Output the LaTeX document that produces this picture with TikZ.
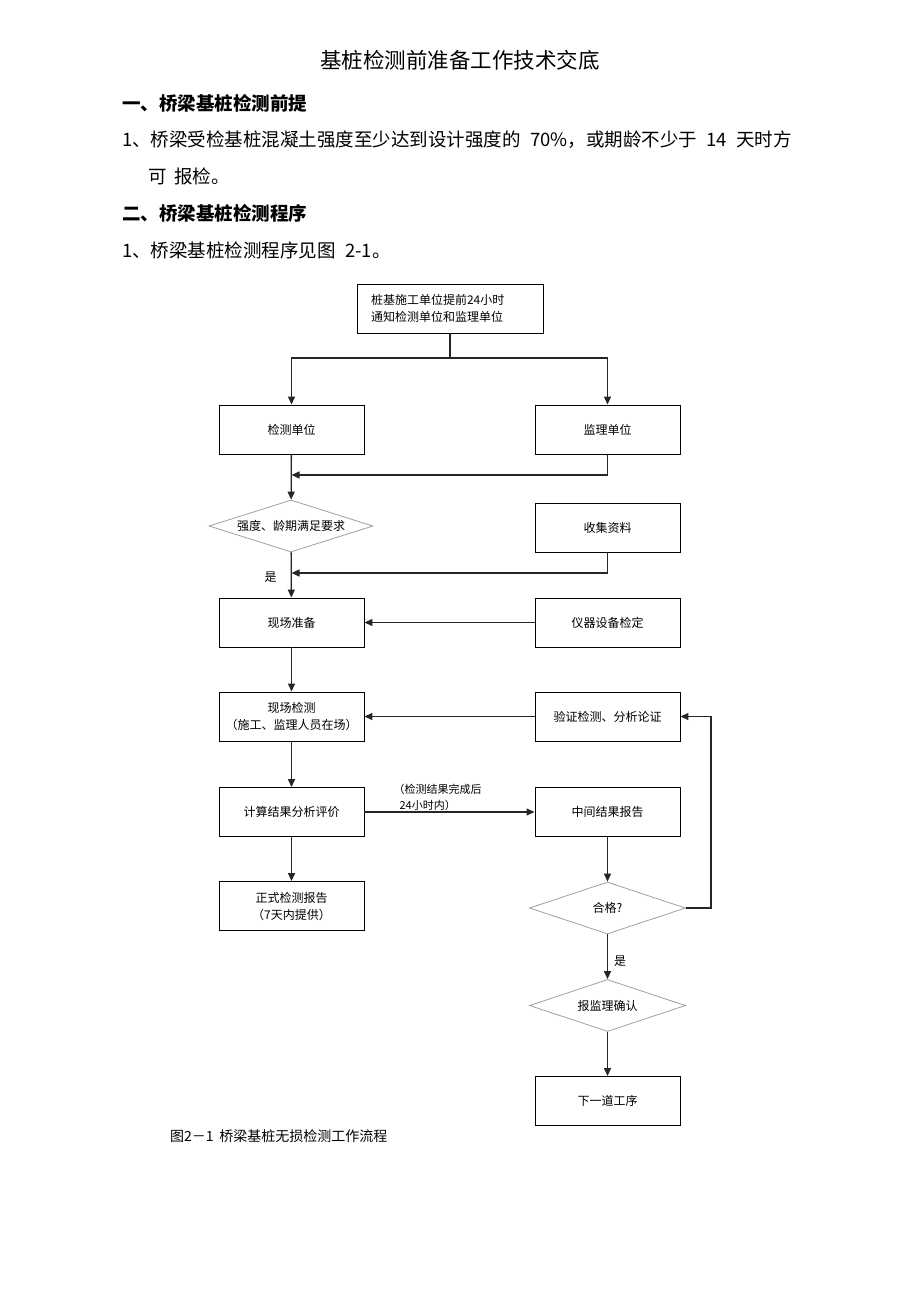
\documentclass[tikz,border=0pt]{standalone}
\usepackage{fontspec}
\setmainfont{Liberation Serif}
\newfontfamily\cjk{Noto Sans CJK SC}
\usetikzlibrary{arrows.meta,shapes.geometric}

\begin{document}
\begin{tikzpicture}[x=1pt,y=-1pt,
    box/.style={draw,line width=0.9pt,minimum width=145pt,minimum height=49pt,inner sep=0pt,align=center,font=\cjk\fontsize{12}{17}\selectfont},
    cond/.style={draw=gray!75,line width=0.8pt,diamond,aspect=3,minimum width=156pt,minimum height=52pt,inner sep=0pt,font=\cjk\fontsize{12}{17}\selectfont},
    flow/.style={draw=black!85,line width=1.3pt,-{Triangle[length=8pt,width=7pt]}},
    joinline/.style={draw=black!85,line width=1.3pt},
    lab/.style={inner sep=0pt,font=\cjk\fontsize{11}{16}\selectfont},
    body/.style={anchor=west,inner sep=0pt,font=\cjk\fontsize{18.5}{20}\selectfont}]
    \useasboundingbox (0,0) rectangle (920,1302);
    % text above the chart
    \node[inner sep=0pt,font=\cjk\fontsize{21.5}{24}\selectfont] (title) at (460,60) {基桩检测前准备工作技术交底};
    \node[body,font=\cjk\bfseries\fontsize{18.5}{20}\selectfont] (h1) at (122,103) {一、桥梁基桩检测前提};
    \node[body] (p1) at (122,140) {1、桥梁受检基桩混凝土强度至少达到设计强度的\hspace{0.5em}70\%，或期龄不少于\hspace{0.5em}14\hspace{0.5em}天时方};
    \node[body] (p2) at (148,176) {可\hspace{0.4em}报检。};
    \node[body,font=\cjk\bfseries\fontsize{18.5}{20}\selectfont] (h2) at (122,213) {二、桥梁基桩检测程序};
    \node[body] (p3) at (122,250) {1、桥梁基桩检测程序见图\hspace{0.5em}2-1。};
    % chart
    \node[box,text width=158pt,inner xsep=14pt,align=left] (tongzhi) at (450,308.5) {桩基施工单位提前24小时\\通知检测单位和监理单位};
    \node[box] (jcdw) at (291.5,429.5) {检测单位};
    \node[box] (jldw) at (607.5,429.5) {监理单位};
    \node[cond,minimum width=164pt] (qiangdu) at (291,526) {强度、龄期满足要求};
    \node[box] (shouji) at (607.5,527.5) {收集资料};
    \node[box] (zhunbei) at (291.5,622.5) {现场准备};
    \node[box] (yiqi) at (607.5,622.5) {仪器设备检定};
    \node[box] (jiance) at (291.5,716.5) {现场检测\\（施工、监理人员在场）};
    \node[box] (yanzheng) at (607.5,716.5) {验证检测、分析论证};
    \node[box] (jisuan) at (291.5,812) {计算结果分析评价};
    \node[box] (zhongjian) at (607.5,812) {中间结果报告};
    \node[box] (zhengshi) at (291.5,906) {正式检测报告\\（7天内提供）};
    \node[cond] (hege) at (607.5,908) {合格?};
    \node[cond] (queren) at (607.5,1005.5) {报监理确认};
    \node[box] (xiayi) at (607.5,1101) {下一道工序};
    \coordinate (split) at (450,358);
    \coordinate (m1) at (291.5,475);
    \coordinate (m2) at (291.5,573);
    \draw[joinline] (tongzhi) -- (split);
    \draw[flow] (split) -| (jcdw.north);
    \draw[flow] (split) -| (jldw.north);
    \draw[flow] (jcdw) -- (qiangdu);
    \draw[flow] (jldw.south) |- (m1);
    \draw[flow] (qiangdu) -- node[pos=0.55,left=14pt,lab,font=\cjk\fontsize{12}{14}\selectfont] (shi1) {是} (zhunbei);
    \draw[flow] (shouji.south) |- (m2);
    \draw[flow] (yiqi) -- (zhunbei);
    \draw[flow] (zhunbei) -- (jiance);
    \draw[flow] (yanzheng) -- (jiance);
    \draw[flow] (jiance) -- (jisuan);
    \draw[flow] (jisuan) -- node[pos=0.43,above=1pt,lab,align=left] (shixian) {（检测结果完成后\\\hspace*{6pt}24小时内）} (zhongjian);
    \draw[flow] (jisuan) -- (zhengshi);
    \draw[flow] (zhongjian) -- (hege);
    \draw[flow] (hege.east) -- ++(25,0) |- (yanzheng.east);
    \draw[flow] (hege) -- node[pos=0.6,right=6pt,lab,font=\cjk\fontsize{12}{14}\selectfont] (shi2) {是} (queren);
    \draw[flow] (queren) -- (xiayi);
    \node[anchor=west,inner sep=0pt,font=\cjk\fontsize{14}{16}\selectfont] (tuming) at (170,1136) {图2－1\hspace{0.4em}桥梁基桩无损检测工作流程};
\end{tikzpicture}
\end{document}
